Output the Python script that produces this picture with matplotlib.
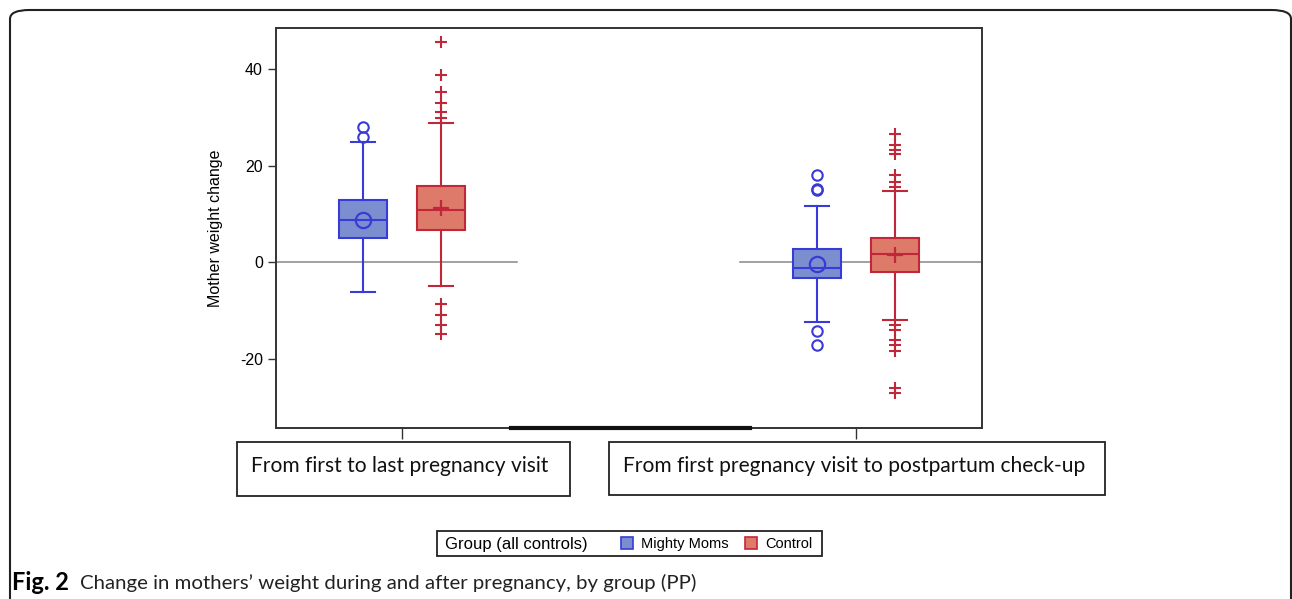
import numpy as np
import matplotlib
matplotlib.use('Agg')
from matplotlib import pyplot as plt
from matplotlib.patches import FancyBboxPatch, Rectangle

# data
periods = ['From first to last pregnancy visit',
           'From first pregnancy visit to postpartum check-up']
groups = ['Mighty Moms', 'Control']

mm_q1 = [5, -3.3]
mm_med = [8.8, -1.2]
mm_q3 = [13, 2.8]
mm_lo = [-6.2, -12.4]
mm_hi = [24.9, 11.7]
mm_mean = [8.8, -0.4]
mm_fliers = [[26, 28], [15, 15.2, 18, -14.2, -17.1]]

ct_q1 = [6.7, -2.1]
ct_med = [10.9, 1.8]
ct_q3 = [15.8, 5.0]
ct_lo = [-5.0, -12.0]
ct_hi = [28.9, 14.8]
ct_mean = [11.3, 1.45]
ct_fliers = [[30, 31.1, 33, 35.3, 38.9, 45.6, -8.6, -11.0, -13.1, -15.0],
             [15.6, 16.7, 18.1, 22.4, 23.3, 24.3, 26.6,
              -13.1, -14.1, -16.2, -17.2, -18.4, -26.0, -27.1]]

yticks = [-20, 0, 20, 40]

blue_edge = '#3a3ad6'
blue_fill = '#7b8fd0'
red_edge = '#c0283a'
red_fill = '#de7a6a'

fig = plt.figure(figsize=(12.92, 5.99), dpi=100)
ax = fig.add_axes([0.2136, 0.2855, 0.5464, 0.6678])

pos = np.array([1, 2])
off = 0.086
bw = 0.106


def stats(q1, med, q3, lo, hi, mean, fl):
    out = []
    for i in range(len(q1)):
        out.append(dict(q1=q1[i], med=med[i], q3=q3[i], whislo=lo[i],
                        whishi=hi[i], mean=mean[i], fliers=fl[i]))
    return out


def draw(st, where, ec, fc, mean_m, flier_m, fl_ms):
    ax.bxp(st, positions=where, widths=bw, capwidths=bw * 0.5,
           showmeans=True, patch_artist=True,
           boxprops=dict(facecolor=fc, edgecolor=ec, linewidth=1.5),
           medianprops=dict(color=ec, linewidth=1.5),
           whiskerprops=dict(color=ec, linewidth=1.5),
           capprops=dict(color=ec, linewidth=1.5),
           meanprops=dict(marker=mean_m, markerfacecolor='none',
                          markeredgecolor=ec, markersize=11, markeredgewidth=1.6),
           flierprops=dict(marker=flier_m, markerfacecolor='none',
                           markeredgecolor=ec, markersize=fl_ms, markeredgewidth=1.5),
           zorder=3)


ax.axhline(0, xmin=0, xmax=0.341, color='#888888', lw=1.1, zorder=1)
ax.axhline(0, xmin=0.657, xmax=1, color='#888888', lw=1.1, zorder=1)

draw(stats(mm_q1, mm_med, mm_q3, mm_lo, mm_hi, mm_mean, mm_fliers),
     pos - off, blue_edge, blue_fill, 'o', 'o', 7.5)
draw(stats(ct_q1, ct_med, ct_q3, ct_lo, ct_hi, ct_mean, ct_fliers),
     pos + off, red_edge, red_fill, '+', '+', 9)

ax.set_xlim(0.7225, 2.2775)
ax.set_ylim(-34.4, 48.6)
ax.set_yticks(yticks)
ax.set_yticklabels([str(t) for t in yticks], fontsize=11.5,
                   family=['Liberation Sans', 'DejaVu Sans'])
ax.set_xticks(pos)
ax.set_xticklabels(['', ''])
ax.tick_params(axis='y', length=6, width=1, color='#333333')
ax.tick_params(axis='x', length=8, width=1, color='#333333')
for s in ax.spines.values():
    s.set_color('#333333')
    s.set_linewidth(1.4)
ax.set_ylabel('Mother weight change', fontsize=11.5,
              family=['Liberation Sans', 'DejaVu Sans'], labelpad=12)
# thicker stretch on the bottom frame
ax.plot([0.333, 0.671], [0, 0], transform=ax.transAxes, color='#111111',
        lw=3, clip_on=False, zorder=5)

W, H = 1292.0, 599.0

# category label boxes below the axis
lab_boxes = [(237, 442, 333, 54), (609, 442, 496, 53)]
for (bx, by, bwid, bh), txt in zip(lab_boxes, periods):
    fig.patches.append(Rectangle((bx / W, 1 - (by + bh) / H), bwid / W, bh / H,
                                 transform=fig.transFigure, fill=False,
                                 edgecolor='#222222', lw=1.3))
    fig.text((bx + 14) / W, 1 - (by + 24) / H, txt, fontsize=15.1,
             family=['Lato', 'DejaVu Sans'],
             va='center', ha='left', color='#111111')

# legend box
fig.patches.append(Rectangle((437 / W, 1 - 556 / H), 385 / W, 25 / H,
                             transform=fig.transFigure, fill=False,
                             edgecolor='#222222', lw=1.3))
fig.text(445 / W, 1 - 544 / H, 'Group (all controls)', fontsize=12,
         family=['Liberation Sans', 'DejaVu Sans'], va='center')
for x0, nm, ec, fc in [(621, groups[0], blue_edge, blue_fill),
                       (745, groups[1], red_edge, red_fill)]:
    fig.patches.append(Rectangle((x0 / W, 1 - 549 / H), 12 / W, 12 / H,
                                 transform=fig.transFigure,
                                 facecolor=fc, edgecolor=ec, lw=1.2))
    fig.text((x0 + 20) / W, 1 - 544 / H, nm, fontsize=10.5,
             family=['Liberation Sans', 'DejaVu Sans'], va='center')

# outer rounded frame
fig.patches.append(FancyBboxPatch((10 / W, -0.05), 1281 / W, 1 - 10 / H + 0.05,
                                  boxstyle='round,pad=0,rounding_size=0.015',
                                  transform=fig.transFigure, fill=False,
                                  edgecolor='#222222', lw=1.5))

fig.text(12 / W, 1 - 583 / H, 'Fig. 2', fontsize=17, fontweight='bold',
         family=['Lato', 'DejaVu Sans'], va='center')
fig.text(80 / W, 1 - 583 / H,
         'Change in mothers\u2019 weight during and after pregnancy, by group (PP)',
         fontsize=14.7, family=['Lato', 'DejaVu Sans'], va='center',
         color='#222222')

fig.savefig('out.png', dpi=100)
